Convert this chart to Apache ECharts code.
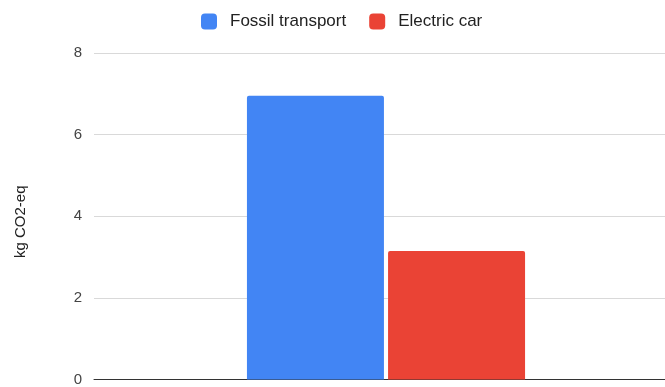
<!DOCTYPE html>
<html>
<head>
<meta charset="utf-8">
<script src="https://cdn.jsdelivr.net/npm/echarts@6/dist/echarts.min.js"></script>
<style>
  html, body { margin: 0; padding: 0; background: #fff; overflow: hidden; }
  body { width: 665px; height: 387px; }
  /* plot area runs past the right edge, so gridlines bleed off the page */
  #chart { width: 678px; height: 387px; }
</style>
</head>
<body>
<div id="chart"></div>
<script>
// Emissions per trip, kg CO2-equivalent
const categories = [''];
const fossilTransport = [6.95];
const electricCar = [3.15];
const yTicks = [0, 2, 4, 6, 8];

const chart = echarts.init(document.getElementById('chart'), null, { renderer: 'canvas' });

chart.setOption({
  animation: false,
  textStyle: { fontFamily: 'Liberation Sans, Arial, sans-serif' },
  legend: {
    top: 8,
    left: 196,
    itemWidth: 16,
    itemHeight: 16,
    itemGap: 23,
    icon: 'roundRect',
    textStyle: { fontSize: 17, color: '#222', padding: [0, 0, 0, 8] },
    data: ['Fossil transport', 'Electric car']
  },
  grid: { left: 94, right: 0, top: 53, bottom: 7, containLabel: false },
  xAxis: {
    type: 'category',
    data: categories,
    axisTick: { show: false },
    axisLabel: { show: false },
    axisLine: { lineStyle: { color: '#333', width: 1 } }
  },
  yAxis: {
    type: 'value',
    min: yTicks[0],
    max: yTicks[yTicks.length - 1],
    interval: 2,
    name: 'kg CO2-eq',
    nameLocation: 'middle',
    nameGap: 66,
    nameRotate: 90,
    nameTextStyle: { fontSize: 15, color: '#222', padding: [0, 11, 0, 0] },
    axisLabel: { fontSize: 15, color: '#444', margin: 12 },
    splitLine: { lineStyle: { color: '#d9d9d9' } }
  },
  series: [
    {
      name: 'Fossil transport',
      type: 'bar',
      data: fossilTransport,
      barWidth: 137,
      barGap: '3%',
      itemStyle: { color: '#4285F4', borderRadius: [2, 2, 0, 0] }
    },
    {
      name: 'Electric car',
      type: 'bar',
      data: electricCar,
      barWidth: 137,
      itemStyle: { color: '#EA4335', borderRadius: [2, 2, 0, 0] }
    }
  ]
});
</script>
</body>
</html>
